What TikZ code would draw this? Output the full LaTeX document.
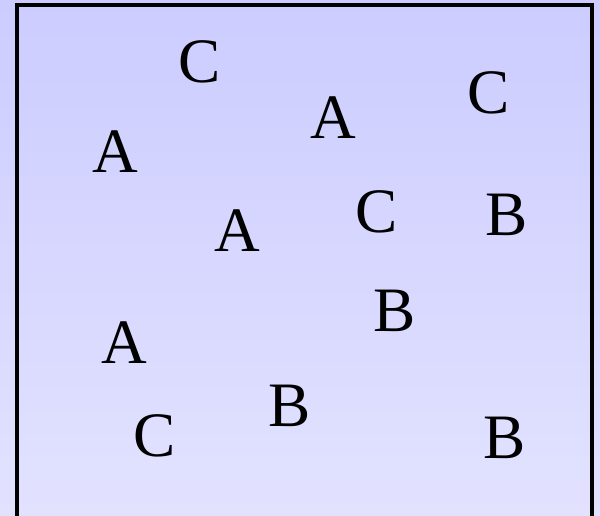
\documentclass[tikz,border=0pt]{standalone}
\usepackage{fontspec}
\setmainfont{Liberation Serif}
\usepackage{tikz}

\definecolor{bgtop}{RGB}{204,204,255}
\definecolor{bgbottom}{RGB}{226,226,255}

\tikzset{
  letter/.style={font=\fontsize{45}{54}\selectfont, inner sep=0pt, anchor=center},
}

\begin{document}
\begin{tikzpicture}[x=0.025cm, y=-0.025cm]

% --- Background ---
\useasboundingbox (0, 0) rectangle (600, 515);
\clip (0, 0) rectangle (600, 515);
\shade[top color=bgtop, bottom color=bgbottom] (0, 0) rectangle (600, 515);

% --- Frame (open at the bottom) ---
\draw[line width=2.2pt, black] (17, 530) -- (17, 5) -- (592, 5) -- (592, 530);

% --- Letters ---
\node[letter] (c1) at (200, 62) {C};
\node[letter] (a1) at (333, 118) {A};
\node[letter] (c2) at (489, 93) {C};
\node[letter] (a2) at (115, 152) {A};
\node[letter] (c3) at (377, 212) {C};
\node[letter] (b1) at (507, 215) {B};
\node[letter] (a3) at (237, 231) {A};
\node[letter] (b2) at (395, 311) {B};
\node[letter] (a4) at (124, 343) {A};
\node[letter] (b3) at (290, 406) {B};
\node[letter] (c4) at (155, 436) {C};
\node[letter] (b4) at (505, 438) {B};

\end{tikzpicture}
\end{document}
